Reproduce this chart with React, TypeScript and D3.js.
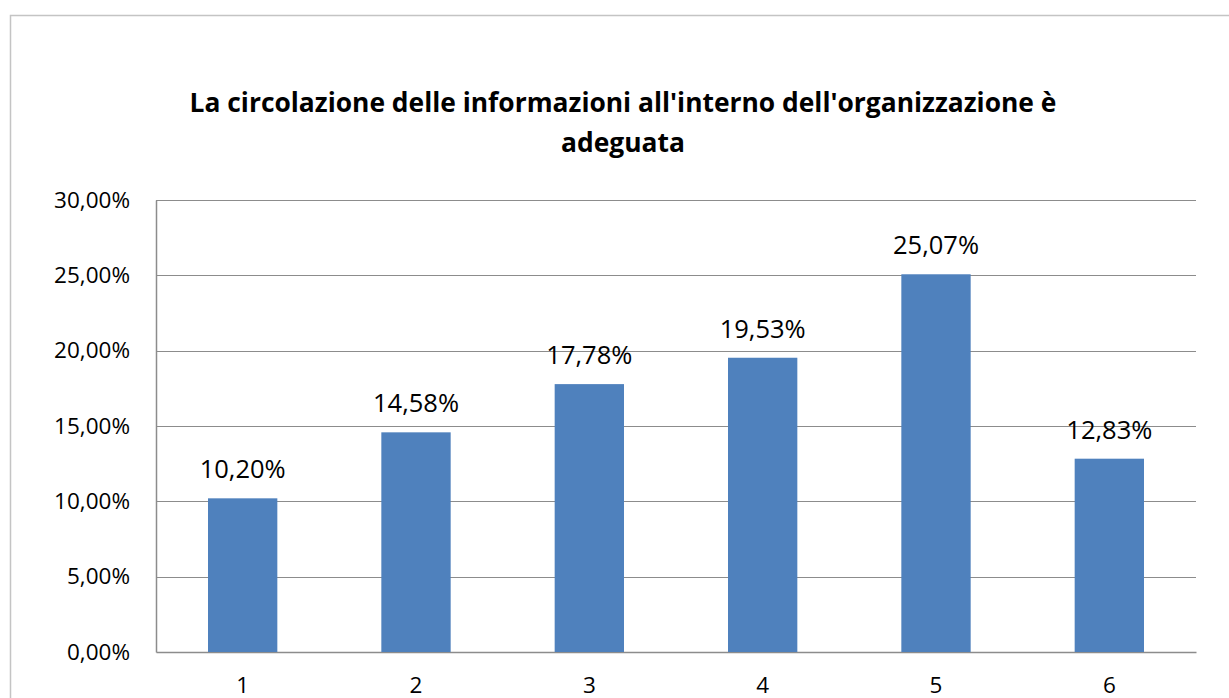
import { useEffect, useRef } from 'react';
import * as d3 from 'd3';

const categories = ['1', '2', '3', '4', '5', '6'];
const values = [10.2, 14.58, 17.78, 19.53, 25.07, 12.83];
const yTicks = [0, 5, 10, 15, 20, 25, 30];
const titleLines = [
  "La circolazione delle informazioni all'interno dell'organizzazione è",
  'adeguata',
];

const fmt = (v: number) => v.toFixed(2).replace('.', ',') + '%';

export default function App() {
  const svgRef = useRef<SVGSVGElement>(null);

  useEffect(() => {
    document.body.style.margin = '0';
    if (!svgRef.current) return;

    const svg = d3.select(svgRef.current);
    svg.selectAll('*').remove();

    const width = 1229;
    const height = 698;
    const margin = { top: 200, right: 33, bottom: 46, left: 156 };
    const font = "'Open Sans', 'Noto Sans', sans-serif";

    // Chart frame (cut off at right and bottom like the original)
    svg.append('path')
      .attr('d', `M10.5,${height + 2}V15.5H${width + 2}`)
      .attr('fill', 'none')
      .attr('stroke', '#c4c4c4')
      .attr('stroke-width', 1.5);

    // Title
    svg.append('text')
      .attr('x', 623)
      .attr('y', 112)
      .attr('text-anchor', 'middle')
      .attr('font-family', font)
      .attr('font-weight', 'bold')
      .attr('font-size', 26.4)
      .attr('fill', '#000')
      .selectAll('tspan')
      .data(titleLines)
      .enter()
      .append('tspan')
      .attr('x', 623)
      .attr('dy', (_d, i) => (i === 0 ? 0 : 40))
      .text(d => d);

    const g = svg.append('g')
      .attr('transform', `translate(${margin.left},${margin.top})`);

    const w = width - margin.left - margin.right;
    const h = height - margin.top - margin.bottom;

    const x = d3.scaleBand()
      .domain(categories)
      .range([0, w])
      .paddingInner(0.6)
      .paddingOuter(0.3);

    const y = d3.scaleLinear()
      .domain([0, 30])
      .range([h, 0]);

    // Gridlines
    g.selectAll('.grid')
      .data(yTicks.filter(t => t > 0))
      .enter()
      .append('line')
      .attr('x1', 0)
      .attr('x2', w)
      .attr('y1', d => Math.round(y(d)) + 0.5)
      .attr('y2', d => Math.round(y(d)) + 0.5)
      .attr('stroke', '#8c8c8c')
      .attr('stroke-width', 1.2);

    // Y axis
    const yAxis = g.append('g')
      .call(d3.axisLeft(y).tickValues(yTicks).tickSize(0).tickPadding(26).tickFormat(d => fmt(+d)));
    yAxis.select('.domain').attr('stroke', '#8c8c8c').attr('stroke-width', 1.5);
    yAxis.selectAll('text')
      .attr('font-family', font)
      .attr('font-size', 22.5)
      .attr('fill', '#000');

    // X axis
    const xAxis = g.append('g')
      .attr('transform', `translate(0,${h})`)
      .call(d3.axisBottom(x).tickSize(0).tickPadding(25));
    xAxis.select('.domain').attr('stroke', '#8c8c8c').attr('stroke-width', 1.5);
    xAxis.selectAll('text')
      .attr('font-family', font)
      .attr('font-size', 22.5)
      .attr('fill', '#000');

    // Bars
    g.selectAll('.bar')
      .data(values)
      .enter()
      .append('rect')
      .attr('class', 'bar')
      .attr('x', (_d, i) => x(categories[i]) || 0)
      .attr('y', d => y(d))
      .attr('width', x.bandwidth())
      .attr('height', d => h - y(d))
      .attr('fill', '#4f81bd');

    // Value labels
    g.selectAll('.value-label')
      .data(values)
      .enter()
      .append('text')
      .attr('class', 'value-label')
      .attr('x', (_d, i) => (x(categories[i]) || 0) + x.bandwidth() / 2)
      .attr('y', d => y(d) - 20)
      .attr('text-anchor', 'middle')
      .attr('font-family', font)
      .attr('font-size', 25.5)
      .attr('fill', '#000')
      .text(d => fmt(d));
  }, []);

  return <svg ref={svgRef} width={1229} height={698} style={{ display: 'block' }} />;
}
